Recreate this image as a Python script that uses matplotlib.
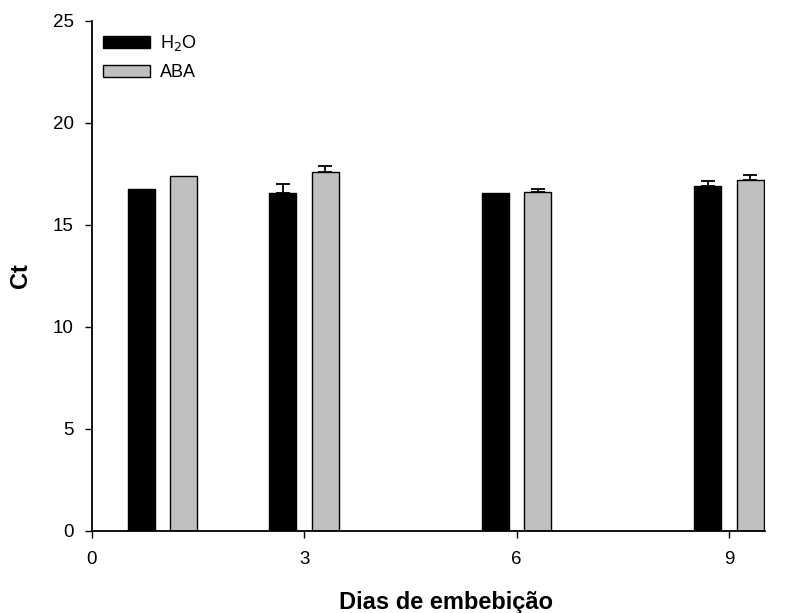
import matplotlib
matplotlib.use("Agg")
import matplotlib.pyplot as plt
import numpy as np

plt.rcParams['font.family'] = ['Liberation Sans', 'DejaVu Sans']

days = [1, 3, 6, 9]
h2o = [16.74, 16.55, 16.55, 16.89]
h2o_err = [0.0, 0.47, 0.0, 0.27]
aba = [17.39, 17.59, 16.59, 17.20]
aba_err = [0.0, 0.31, 0.18, 0.26]
xticks = [0, 3, 6, 9]
yticks = [0, 5, 10, 15, 20, 25]

fig = plt.figure(figsize=(7.89, 6.13), dpi=100)
ax = fig.add_axes([0.1162, 0.1338, 0.969 - 0.1162, 0.9662 - 0.1338])

x = np.array(days, dtype=float)
w = 0.38
off = 0.3
ax.bar(x - off, h2o, width=w, color='black', edgecolor='black', linewidth=1.0, label='H$_2$O', zorder=2)
ax.bar(x + off, aba, width=w, color='#C0C0C0', edgecolor='black', linewidth=1.0, label='ABA', zorder=2)

for vals, errs, sgn in ((h2o, h2o_err, -1), (aba, aba_err, 1)):
    v = np.array(vals)
    e = np.array(errs)
    m = e > 0
    ax.errorbar((x + sgn * off)[m], v[m], yerr=[np.zeros(m.sum()), e[m]], fmt='none',
                ecolor='black', elinewidth=1.3, capsize=5, capthick=1.3, zorder=3)

ax.set_xlim(0, 9.5)
ax.set_ylim(0, 25)
ax.set_xticks(xticks)
ax.set_yticks(yticks)
ax.spines['top'].set_visible(False)
ax.spines['right'].set_visible(False)
for s in ('left', 'bottom'):
    ax.spines[s].set_linewidth(1.3)
ax.tick_params(direction='out', length=5, width=1.0, labelsize=13.5)
ax.tick_params(axis='x', pad=9.5)
ax.tick_params(axis='y', pad=8)

ax.set_xlabel('Dias de embebição', fontsize=17, fontweight='bold')
ax.xaxis.set_label_coords(0.5265, -0.1529)
ax.xaxis.label.set_va('baseline')
ax.set_ylabel('Ct', fontsize=17, fontweight='bold')
ax.yaxis.set_label_coords(-0.1065, 0.5)
ax.yaxis.label.set_va('center')

ax.legend(loc='upper left', bbox_to_anchor=(0.0168, 0.975), frameon=False, fontsize=13,
          handlelength=2.6, handleheight=0.65, labelspacing=0.6, handletextpad=0.55,
          borderaxespad=0, borderpad=0)

fig.savefig('out.png', dpi=100)
